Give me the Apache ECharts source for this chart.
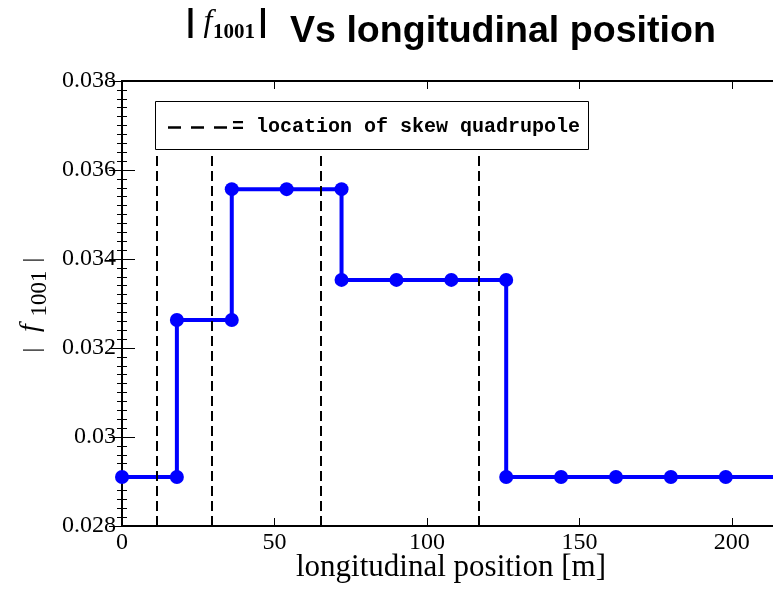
<!DOCTYPE html>
<html>
<head>
<meta charset="utf-8">
<script src="https://cdn.jsdelivr.net/npm/echarts/dist/echarts.min.js"></script>
<style>
  html, body { margin: 0; padding: 0; background: #ffffff; }
  #chart { width: 773px; height: 590px; }
</style>
</head>
<body>
<div id="chart"></div>
<script>
// Longitudinal position of each sample along the line [m]
const sPositions = [0, 18, 18, 36, 36, 54, 72, 72, 90, 108, 126, 126, 144, 162, 180, 198, 216];
// |f1001| coupling amplitude at those positions
const f1001Abs = [0.0291, 0.0291, 0.03263, 0.03263, 0.03557, 0.03557, 0.03557, 0.03353,
                  0.03353, 0.03353, 0.03353, 0.0291, 0.0291, 0.0291, 0.0291, 0.0291, 0.0291];
// Skew quadrupole locations [m]
const skewQuadPositions = [11.5, 29.3, 65.2, 116.9];
// Axis ranges and tick spacing
const xRange = [0, 213.5];
const xTickStep = 50;
const yRange = [0.028, 0.038];
const yTickStep = 0.002;
// Upper end of the quadrupole markers on the |f1001| scale
const quadMarkerTop = 0.0364;

const serif = '"Liberation Serif", "Times New Roman", serif';
const sans = '"Liberation Sans", Arial, sans-serif';

const chart = echarts.init(document.getElementById('chart'), null, { renderer: 'canvas' });

const lineData = sPositions.map((s, i) => [s, f1001Abs[i]]);
const quadLines = skewQuadPositions.map(s => [
  { coord: [s, yRange[0]] },
  { coord: [s, quadMarkerTop] }
]);

const axisLineStyle = { color: '#000', width: 2 };
const tickStyle = { color: '#000', width: 1 };
const up = Math.PI / 2;

const option = {
  animation: false,
  backgroundColor: '#ffffff',
  grid: { left: 122, top: 81, width: 655, height: 445, containLabel: false },
  xAxis: [
    {
      type: 'value', position: 'bottom',
      min: xRange[0], max: xRange[1], interval: xTickStep,
      axisLine: { show: true, lineStyle: axisLineStyle },
      axisTick: { show: true, inside: true, length: 8, lineStyle: tickStyle },
      axisLabel: {
        show: true, color: '#000', fontFamily: serif, fontSize: 24, margin: 5,
        showMaxLabel: false,
        formatter: v => (v % xTickStep === 0 ? String(v) : '')
      },
      splitLine: { show: false }
    },
    {
      type: 'value', position: 'top',
      min: xRange[0], max: xRange[1], interval: xTickStep,
      axisLine: { show: true, lineStyle: axisLineStyle },
      axisTick: { show: true, inside: true, length: 8, lineStyle: tickStyle },
      axisLabel: { show: false },
      splitLine: { show: false }
    }
  ],
  yAxis: [
    {
      type: 'value', position: 'left',
      min: yRange[0], max: yRange[1], interval: yTickStep,
      axisLine: { show: true, lineStyle: axisLineStyle },
      axisTick: { show: true, inside: true, length: 13, lineStyle: tickStyle },
      minorTick: { show: true, splitNumber: 10, length: 5, lineStyle: tickStyle },
      axisLabel: {
        show: true, color: '#000', fontFamily: serif, fontSize: 24, margin: 6,
        formatter: v => String(Number(v.toFixed(3)))
      },
      splitLine: { show: false }
    },
    {
      type: 'value', position: 'right',
      min: yRange[0], max: yRange[1], interval: yTickStep,
      axisLine: { show: true, lineStyle: axisLineStyle },
      axisTick: { show: true, inside: true, length: 13, lineStyle: tickStyle },
      minorTick: { show: true, splitNumber: 10, length: 5, lineStyle: tickStyle },
      axisLabel: { show: false },
      splitLine: { show: false }
    }
  ],
  series: [
    {
      name: '|f1001|',
      type: 'line',
      xAxisIndex: 0, yAxisIndex: 0,
      data: lineData,
      clip: true,
      symbol: 'circle',
      symbolSize: 14,
      showAllSymbol: true,
      itemStyle: { color: '#0000ff' },
      lineStyle: { color: '#0000ff', width: 4 },
      emphasis: { disabled: true },
      z: 2
    },
    {
      name: 'location of skew quadrupole',
      type: 'line',
      xAxisIndex: 0, yAxisIndex: 0,
      data: [],
      z: 5,
      markLine: {
        silent: true,
        symbol: 'none',
        label: { show: false },
        lineStyle: { color: '#000', width: 2, type: [10, 5] },
        emphasis: { disabled: true },
        data: quadLines
      }
    }
  ],
  graphic: [
    // title: |f1001| Vs longitudinal position
    { type: 'text', x: 190.5, y: 22.5, z: 20,
      style: { text: '|', font: 'bold 32px ' + sans, fill: '#000', align: 'center', verticalAlign: 'middle' } },
    { type: 'text', x: 208, y: 23, z: 20,
      style: { text: 'f', font: 'italic 32px ' + serif, fill: '#000', align: 'center', verticalAlign: 'middle' } },
    { type: 'text', x: 234, y: 33, z: 20,
      style: { text: '1001', font: 'bold 21px ' + serif, fill: '#000', align: 'center', verticalAlign: 'middle' } },
    { type: 'text', x: 263, y: 22.5, z: 20,
      style: { text: '|', font: 'bold 32px ' + sans, fill: '#000', align: 'center', verticalAlign: 'middle' } },
    { type: 'text', x: 290, y: 31.5, z: 20,
      style: { text: 'Vs longitudinal position', font: 'bold 37.6px ' + sans, fill: '#000', align: 'left', verticalAlign: 'middle' } },

    // y-axis label: | f1001 |  (reads bottom to top)
    { type: 'text', x: 32.4, y: 350, rotation: up, z: 20,
      style: { text: '|', font: '24px ' + serif, fill: '#000', align: 'center', verticalAlign: 'middle' } },
    { type: 'text', x: 31, y: 328, rotation: up, z: 20,
      style: { text: 'f', font: 'italic 28px ' + serif, fill: '#000', align: 'center', verticalAlign: 'middle' } },
    { type: 'text', x: 39.5, y: 293.5, rotation: up, z: 20,
      style: { text: '1001', font: '23px ' + serif, fill: '#000', align: 'center', verticalAlign: 'middle' } },
    { type: 'text', x: 32.4, y: 260, rotation: up, z: 20,
      style: { text: '|', font: '24px ' + serif, fill: '#000', align: 'center', verticalAlign: 'middle' } },

    // x-axis label
    { type: 'text', x: 451, y: 568, z: 20,
      style: { text: 'longitudinal position [m]', font: '31px ' + serif, fill: '#000', align: 'center', verticalAlign: 'middle' } },

    // legend box
    { type: 'rect', z: 30, shape: { x: 155.5, y: 101.5, width: 433, height: 48 },
      style: { fill: '#ffffff', stroke: '#000', lineWidth: 1 } },
    { type: 'line', z: 31, shape: { x1: 168, y1: 127.5, x2: 227, y2: 127.5 },
      style: { stroke: '#000', lineWidth: 2.5, lineDash: [13, 10] } },
    { type: 'text', x: 232, y: 127, z: 31,
      style: { text: '= location of skew quadrupole', font: 'bold 20px "Liberation Mono", "Courier New", monospace',
               fill: '#000', align: 'left', verticalAlign: 'middle' } }
  ]
};

chart.setOption(option);
</script>
</body>
</html>
